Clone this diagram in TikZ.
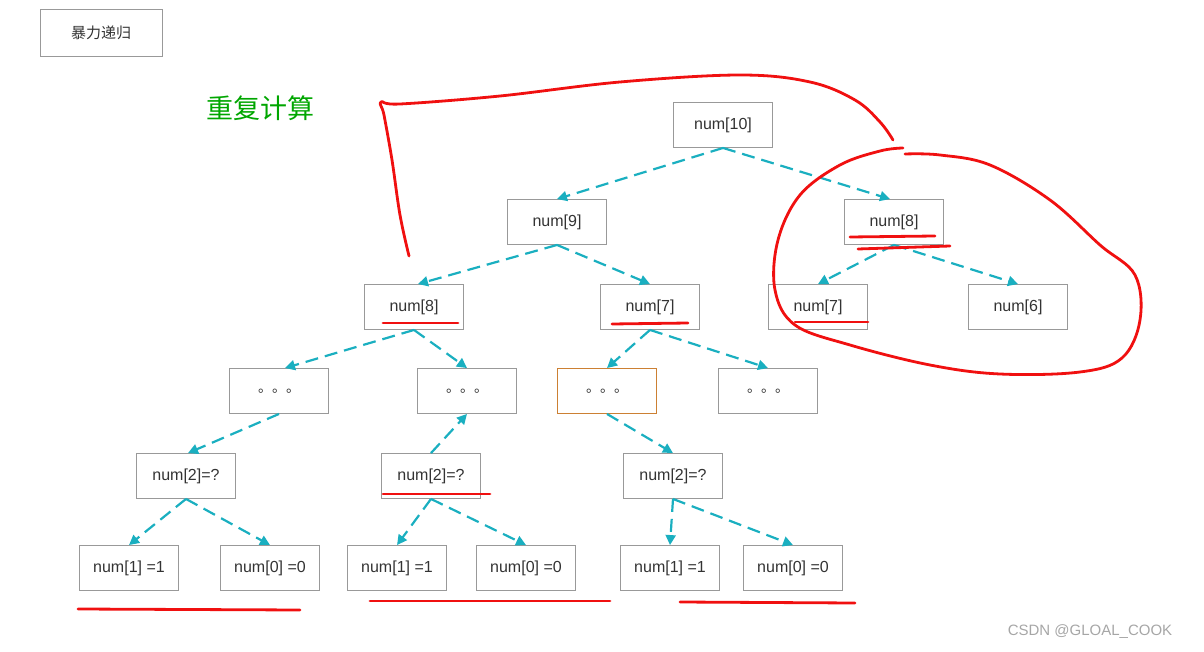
\documentclass[tikz,border=0pt]{standalone}
\usepackage{fontspec}
\setmainfont{Liberation Sans}
\newfontfamily\cjk{Noto Sans CJK SC}
\usetikzlibrary{arrows.meta}
\definecolor{teal1}{HTML}{1AAFC0}
\definecolor{redpen}{HTML}{F01010}
\begin{document}
\begin{tikzpicture}[x=1pt,y=-1pt,
 box/.style={draw=gray!80,line width=0.9pt,minimum width=99pt,minimum height=45pt,inner sep=0pt,font=\fontsize{16}{18}\selectfont,text=black!80},
 ed/.style={draw=teal1,line width=2.2pt,dash pattern=on 13pt off 7pt,-{Triangle[length=10pt,width=10pt]}},
 pen/.style={draw=redpen,line width=2.8pt,line cap=round,line join=round}]
\useasboundingbox (0,0) rectangle (1204,652);
\node[box,minimum width=122pt,minimum height=47pt,font=\cjk\fontsize{15}{17}\selectfont] (t) at (101,33) {暴力递归};
\node[font=\cjk\fontsize{27}{30}\selectfont,text=green!65!black] (g) at (260,108) {重复计算};
\node[box] (n10) at (723,125) {num[10]};
\node[box] (n9) at (557,222) {num[9]};
\node[box] (n8r) at (894,222) {num[8]};
\node[box] (n8) at (414,307) {num[8]};
\node[box] (n7) at (650,307) {num[7]};
\node[box] (n7r) at (818,307) {num[7]};
\node[box] (n6) at (1018,307) {num[6]};
\node[box,font=\cjk\fontsize{14}{16}\selectfont] (d1) at (279,391) {。。。};
\node[box,font=\cjk\fontsize{14}{16}\selectfont] (d2) at (467,391) {。。。};
\node[box,font=\cjk\fontsize{14}{16}\selectfont,draw=brown!80!orange] (d3) at (607,391) {。。。};
\node[box,font=\cjk\fontsize{14}{16}\selectfont] (d4) at (768,391) {。。。};
\node[box] (a) at (186,476) {num[2]=?};
\node[box] (b) at (431,476) {num[2]=?};
\node[box] (c) at (673,476) {num[2]=?};
\node[box] (a1) at (129,568) {num[1] =1};
\node[box] (a0) at (270,568) {num[0] =0};
\node[box] (b1) at (397,568) {num[1] =1};
\node[box] (b0) at (526,568) {num[0] =0};
\node[box] (c1) at (670,568) {num[1] =1};
\node[box] (c0) at (793,568) {num[0] =0};
\draw[ed] (n10.south) -- (n9.north);
\draw[ed] (n10.south) -- ([xshift=-4pt]n8r.north);
\draw[ed] (n9.south) -- ([xshift=4pt]n8.north);
\draw[ed] (n9.south) -- (n7.north);
\draw[ed] (n8r.south) -- (n7r.north);
\draw[ed] (n8r.south) -- (n6.north);
\draw[ed] (n8.south) -- ([xshift=6pt]d1.north);
\draw[ed] (n8.south) -- (d2.north);
\draw[ed] (n7.south) -- (d3.north);
\draw[ed] (n7.south) -- (d4.north);
\draw[ed] (d1.south) -- ([xshift=2pt]a.north);
\draw[ed] (b.north) -- (d2.south);
\draw[ed] (d3.south) -- (c.north);
\draw[ed] (a.south) -- (a1.north);
\draw[ed] (a.south) -- (a0.north);
\draw[ed] (b.south) -- (b1.north);
\draw[ed] (b.south) -- (b0.north);
\draw[ed] (c.south) -- (c1.north);
\draw[ed] (c.south) -- (c0.north);
% red pen marks
\draw[pen] plot[smooth,tension=0.6] coordinates {(409,256) (400,215) (392,160) (384,115) (381,102) (400,104) (500,96) (620,82) (740,75) (810,82) (855,100) (880,122) (893,140)};
\draw[pen] plot[smooth,tension=0.6] coordinates {(903,148) (880,151) (840,165) (800,195) (778,240) (775,290) (795,325) (850,345) (930,365) (1000,374) (1080,372) (1122,358) (1140,320) (1135,275) (1100,245) (1050,200) (990,165) (940,155) (905,154)};
\draw[pen] (850,237) -- (935,236);
\draw[pen] (858,249) -- (950,246);
\draw[pen] (795,322) -- (868,322);
\draw[pen] (383,323) -- (458,323);
\draw[pen] (612,324) -- (688,323);
\draw[pen] (383,494) -- (490,494);
\draw[pen] (78,609) -- (300,610);
\draw[pen] (370,601) -- (610,601);
\draw[pen] (680,602) -- (855,603);
\node[font=\fontsize{15}{17}\selectfont,text=gray!70] (w) at (1090,632) {CSDN @GLOAL\_COOK};
\end{tikzpicture}
\end{document}
